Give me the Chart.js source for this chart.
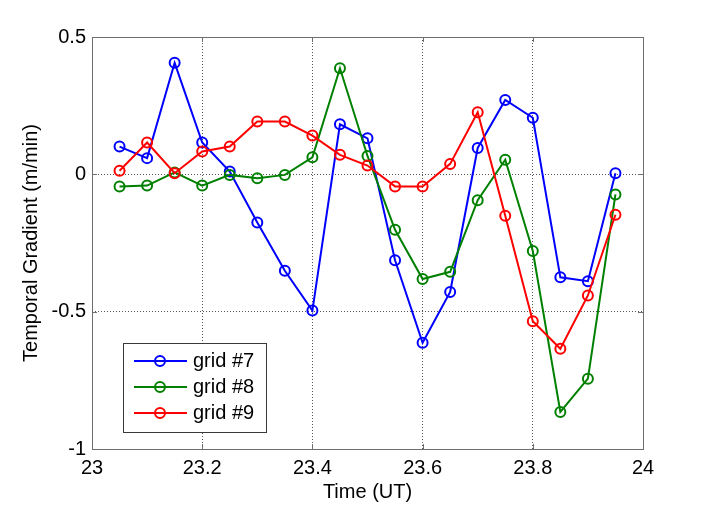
<!DOCTYPE html>
<html>
<head>
<meta charset="utf-8">
<script src="https://cdn.jsdelivr.net/npm/chart.js@4"></script>
<style>
  html, body { margin: 0; padding: 0; background: #fff; }
  canvas { display: block; }
</style>
</head>
<body>
<canvas id="myChart" width="710" height="508"></canvas>
<script>
// time axis (UT hours)
const times = [23.05, 23.10, 23.15, 23.20, 23.25, 23.30, 23.35, 23.40, 23.45, 23.50,
               23.55, 23.60, 23.65, 23.70, 23.75, 23.80, 23.85, 23.90, 23.95];
const grid7 = [0.101, 0.059, 0.406, 0.116, 0.010, -0.175, -0.351, -0.496, 0.182, 0.131,
               -0.313, -0.613, -0.428, 0.096, 0.271, 0.206, -0.375, -0.389, 0.004];
const grid8 = [-0.044, -0.041, 0.007, -0.041, -0.002, -0.014, -0.002, 0.062, 0.386, 0.067,
               -0.202, -0.381, -0.355, -0.094, 0.053, -0.279, -0.865, -0.744, -0.073];
const grid9 = [0.013, 0.116, 0.004, 0.083, 0.101, 0.192, 0.192, 0.141, 0.071, 0.032,
               -0.044, -0.044, 0.038, 0.226, -0.151, -0.535, -0.635, -0.441, -0.147];
const xTicks = [23, 23.2, 23.4, 23.6, 23.8, 24];
const yTicks = [-1, -0.5, 0, 0.5];
const seriesNames = ['grid #7', 'grid #8', 'grid #9'];
const seriesColors = ['#0000ff', '#008000', '#ff0000'];

Chart.defaults.font.family = "'Liberation Sans', Arial, sans-serif";
Chart.defaults.font.size = 20;
Chart.defaults.color = '#000';

function toPoints(vals) {
    return vals.map((v, i) => ({ x: times[i], y: v }));
}

const allSeries = [grid7, grid8, grid9];
const datasets = allSeries.map((vals, i) => ({
    label: seriesNames[i],
    data: toPoints(vals),
    borderColor: seriesColors[i],
    backgroundColor: seriesColors[i],
    pointBackgroundColor: 'transparent',
    pointBorderColor: seriesColors[i],
    pointRadius: 5,
    pointBorderWidth: 2,
    borderWidth: 2,
    tension: 0,
    clip: false,
    order: 2 - i
}));

// matlab style box with inward tick marks
const axesBox = {
    id: 'axesBox',
    afterDatasetsDraw(chart) {
        const { ctx, chartArea: a, scales } = chart;
        ctx.save();
        ctx.strokeStyle = '#6e6e6e';
        ctx.lineWidth = 1;
        ctx.beginPath();
        for (const v of xTicks) {
            const px = Math.round(scales.x.getPixelForValue(v)) + 0.5;
            ctx.moveTo(px, a.bottom); ctx.lineTo(px, a.bottom - 5);
            ctx.moveTo(px, a.top); ctx.lineTo(px, a.top + 5);
        }
        for (const v of yTicks) {
            const py = Math.round(scales.y.getPixelForValue(v)) + 0.5;
            ctx.moveTo(a.left, py); ctx.lineTo(a.left + 5, py);
            ctx.moveTo(a.right, py); ctx.lineTo(a.right - 5, py);
        }
        ctx.stroke();
        ctx.strokeRect(Math.round(a.left) + 0.5, Math.round(a.top) + 0.5,
                       Math.round(a.right - a.left), Math.round(a.bottom - a.top));
        ctx.restore();
    }
};

const legendBox = {
    id: 'legendBox',
    afterDraw(chart) {
        const { ctx, chartArea: a } = chart;
        const left = Math.round(a.left) + 31, top = Math.round(a.bottom) - 106;
        ctx.save();
        ctx.fillStyle = '#fff';
        ctx.fillRect(left + 0.5, top + 0.5, 143, 89);
        ctx.strokeStyle = '#3a3a3a';
        ctx.lineWidth = 1;
        ctx.strokeRect(left + 0.5, top + 0.5, 143, 89);
        seriesNames.forEach((name, i) => {
            const y = top + 18 + i * 26;
            ctx.strokeStyle = seriesColors[i];
            ctx.lineWidth = 2;
            ctx.beginPath();
            ctx.moveTo(left + 11, y); ctx.lineTo(left + 64, y);
            ctx.stroke();
            ctx.beginPath();
            ctx.arc(left + 37, y, 5, 0, Math.PI * 2);
            ctx.stroke();
            ctx.fillStyle = '#000';
            ctx.font = "20px 'Liberation Sans', Arial, sans-serif";
            ctx.textBaseline = 'alphabetic';
            ctx.fillText(name, left + 70, y + 6);
        });
        ctx.restore();
    }
};

const config = {
    type: 'line',
    data: { datasets: datasets },
    options: {
        responsive: false,
        animation: false,
        layout: { padding: { left: 0, top: 37, right: 67, bottom: 0 } },
        plugins: {
            legend: { display: false },
            tooltip: { enabled: false }
        },
        scales: {
            x: {
                type: 'linear',
                min: 23,
                max: 24,
                afterBuildTicks: scale => { scale.ticks = xTicks.map(v => ({ value: v })); },
                afterFit: scale => { scale.height = 59; },
                ticks: { padding: 7, maxRotation: 0, callback: v => String(v) },
                grid: { color: '#555', borderDash: [1, 2], drawTicks: false, lineWidth: 1 },
                border: { display: false, dash: [1, 2] },
                title: { display: true, text: 'Time (UT)', padding: { top: 0, bottom: 4 } }
            },
            y: {
                min: -1,
                max: 0.5,
                afterBuildTicks: scale => { scale.ticks = yTicks.map(v => ({ value: v })); },
                afterFit: scale => { scale.width = 92; },
                ticks: { padding: 6, callback: v => String(v) },
                grid: { color: '#555', drawTicks: false, lineWidth: 1 },
                border: { display: false, dash: [1, 2] },
                title: { display: true, text: 'Temporal Gradient (m/min)', padding: { top: 19, bottom: 0 } }
            }
        }
    },
    plugins: [axesBox, legendBox]
};

// dotted grid lines
config.options.scales.x.border.dash = [1, 2];
config.options.scales.y.border.dash = [1, 2];
config.options.scales.x.grid.borderDash = undefined;

const myChart = new Chart(document.getElementById('myChart'), config);
</script>
</body>
</html>
